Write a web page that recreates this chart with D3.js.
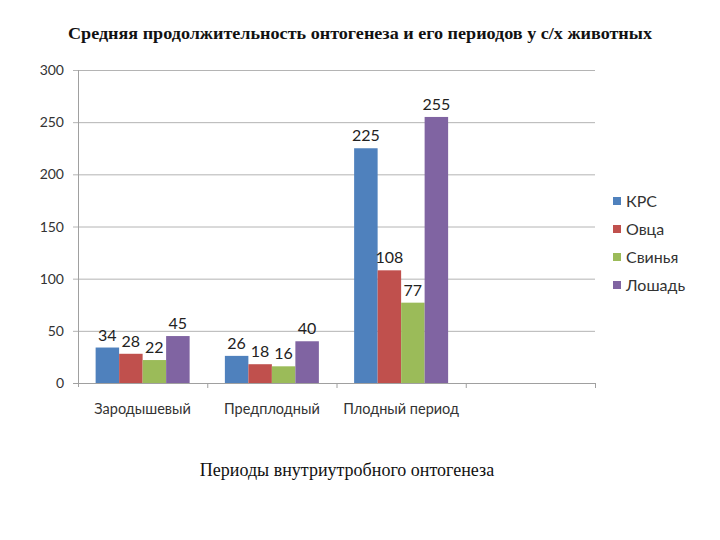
<!DOCTYPE html>
<html>
<head>
<meta charset="utf-8">
<script src="https://cdn.jsdelivr.net/npm/d3@7"></script>
<style>
  body { margin: 0; background: #fff; }
  svg { display: block; }
</style>
</head>
<body>
<svg width="720" height="540"></svg>
<script>
// Data
const categories = ["Зародышевый", "Предплодный", "Плодный период", ""];
const seriesNames = ["КРС", "Овца", "Свинья", "Лошадь"];
const krs = [34, 26, 225, null];
const ovca = [28, 18, 108, null];
const svinya = [22, 16, 77, null];
const loshad = [45, 40, 255, null];
const yTicks = [0, 50, 100, 150, 200, 250, 300];
const colors = ["#4F81BD", "#C0504D", "#9BBB59", "#8064A2"];

const series = [krs, ovca, svinya, loshad];

const svg = d3.select("svg");
const plotL = 78, plotR = 595, plotT = 70, plotB = 383;
const sansFont = "Lato, 'Open Sans', sans-serif";
const serifFont = "'Liberation Serif', 'DejaVu Serif', serif";

const x = d3.scaleBand().domain(d3.range(categories.length)).range([plotL, plotR]).paddingInner(0).paddingOuter(0);
const xs = d3.scaleBand().domain(d3.range(series.length)).range([0, x.bandwidth()]).paddingOuter(0.75).paddingInner(0);
const y = d3.scaleLinear().domain([0, 300]).range([plotB, plotT]);

// title
svg.append("text")
    .attr("x", 360).attr("y", 39)
    .attr("text-anchor", "middle")
    .style("font-family", serifFont)
    .style("font-size", "17px")
    .style("font-weight", "bold")
    .attr("fill", "#111")
    .attr("textLength", 584)
    .attr("lengthAdjust", "spacingAndGlyphs")
    .text("Средняя продолжительность онтогенеза и его периодов у с/х животных");

// gridlines
svg.append("g")
    .selectAll("line")
    .data(yTicks)
    .join("line")
    .attr("x1", plotL - 5).attr("x2", plotR)
    .attr("y1", d => y(d) + 0.5).attr("y2", d => y(d) + 0.5)
    .attr("stroke", d => d === 0 ? "#a0a0a0" : "#b4b4b4")
    .attr("stroke-width", 1);

// y axis line
svg.append("line")
    .attr("x1", plotL + 0.5).attr("x2", plotL + 0.5)
    .attr("y1", plotT).attr("y2", plotB + 4)
    .attr("stroke", "#a0a0a0");

// y labels
svg.append("g")
    .selectAll("text")
    .data(yTicks)
    .join("text")
    .attr("x", plotL - 14)
    .attr("y", d => y(d) + 5)
    .attr("text-anchor", "end")
    .style("font-family", sansFont)
    .style("font-size", "14px")
    .attr("fill", "#333")
    .text(d => d);

// x category ticks
svg.append("g")
    .selectAll("line")
    .data(d3.range(1, categories.length + 1))
    .join("line")
    .attr("x1", d => (d < categories.length ? x(d) : plotR) + 0.5)
    .attr("x2", d => (d < categories.length ? x(d) : plotR) + 0.5)
    .attr("y1", plotB).attr("y2", plotB + 5)
    .attr("stroke", "#a0a0a0");

// bars
const groups = svg.append("g")
    .selectAll("g")
    .data(series)
    .join("g")
    .attr("fill", (d, i) => colors[i]);

groups.each(function (vals, si) {
    const g = d3.select(this);
    const pts = vals.map((v, ci) => ({ v, ci })).filter(p => p.v != null);
    g.selectAll("rect")
        .data(pts)
        .join("rect")
        .attr("x", p => x(p.ci) + xs(si))
        .attr("width", xs.bandwidth())
        .attr("y", p => y(p.v))
        .attr("height", p => y(0) - y(p.v));
    g.selectAll("text")
        .data(pts)
        .join("text")
        .attr("x", p => x(p.ci) + xs(si) + xs.bandwidth() / 2)
        .attr("y", p => y(p.v) - 7)
        .attr("text-anchor", "middle")
        .style("font-family", sansFont)
        .style("font-size", "16px")
        .attr("fill", "#222")
        .text(p => p.v);
});

// category labels
svg.append("g")
    .selectAll("text")
    .data(categories)
    .join("text")
    .attr("x", (d, i) => x(i) + x.bandwidth() / 2)
    .attr("y", 414)
    .attr("text-anchor", "middle")
    .style("font-family", sansFont)
    .style("font-size", "14.5px")
    .attr("fill", "#333")
    .text(d => d);

// x axis title
svg.append("text")
    .attr("x", 347).attr("y", 476)
    .attr("text-anchor", "middle")
    .style("font-family", serifFont)
    .style("font-size", "18px")
    .attr("fill", "#111")
    .text("Периоды внутриутробного онтогенеза");

// legend
const legend = svg.append("g")
    .selectAll("g")
    .data(seriesNames)
    .join("g")
    .attr("transform", (d, i) => `translate(613, ${201 + i * 28})`);
legend.append("rect")
    .attr("x", 0).attr("y", -4)
    .attr("width", 8).attr("height", 8)
    .attr("fill", (d, i) => colors[i]);
legend.append("text")
    .attr("x", 13).attr("y", 5.5)
    .style("font-family", sansFont)
    .style("font-size", "16px")
    .attr("fill", "#333")
    .text(d => d);
</script>
</body>
</html>
